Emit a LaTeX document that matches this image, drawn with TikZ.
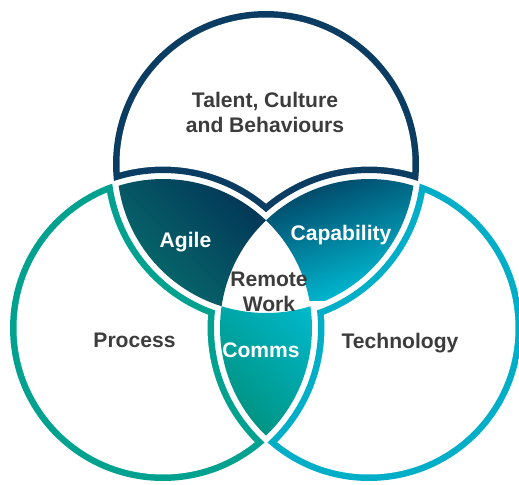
\documentclass[tikz,border=0pt]{standalone}
\usepackage{fontspec}
\setmainfont{Liberation Sans}
\definecolor{navyring}{HTML}{0B3D63}
\definecolor{navydeep}{HTML}{023456}
\definecolor{procteal}{HTML}{00A28F}
\definecolor{techcyan}{HTML}{00AEC8}
\definecolor{agileteal}{HTML}{08716F}
\definecolor{capcyan}{HTML}{00C0D8}
\definecolor{commscyan}{HTML}{00BBD0}
\definecolor{commsgreen}{HTML}{00917E}
\definecolor{labelgray}{HTML}{3C3C3C}
\tikzset{
  darklbl/.style={font=\fontsize{12}{14.2}\selectfont\bfseries, text=labelgray, align=center, inner sep=0pt},
  lightlbl/.style={font=\fontsize{12}{14.2}\selectfont\bfseries, text=white, align=center, inner sep=0pt}
}
% the part of one circle that the two others leave free
\newcommand{\freepart}[6]{%
  \begin{scope}
    \clip #1 circle (#4);
    \begin{scope}[even odd rule]
      \clip \bigbox #2 circle (#5);
      \clip \bigbox #3 circle (#5);
      \fill[#6] \bigbox;
    \end{scope}
  \end{scope}}
\begin{document}
\begin{tikzpicture}[x=0.02cm, y=-0.02cm]
\useasboundingbox (0,0) rectangle (519,484);
\def\bigbox{(-20,-20) rectangle (540,504)}
\def\circT{(266,164) circle (2.98cm)}
\def\circL{(163,328) circle (2.98cm)}
\def\circR{(369,328) circle (2.98cm)}
    % rings: colour first, then the white inside
    \freepart{(266,164)}{(163,328)}{(369,328)}{3.06cm}{3.10cm}{navyring}
    \freepart{(266,164)}{(163,328)}{(369,328)}{2.93cm}{3.23cm}{white}
    \freepart{(163,328)}{(266,164)}{(369,328)}{3.06cm}{3.10cm}{procteal}
    \freepart{(163,328)}{(266,164)}{(369,328)}{2.93cm}{3.23cm}{white}
    \freepart{(369,328)}{(266,164)}{(163,328)}{3.06cm}{3.10cm}{techcyan}
    \freepart{(369,328)}{(266,164)}{(163,328)}{2.93cm}{3.23cm}{white}
    % lenses
    \begin{scope}
        \clip \circT; \clip \circL;
        \begin{scope}[even odd rule]% top and left without the right
            \clip \bigbox \circR;
            \shade[top color=navydeep, bottom color=agileteal, shading angle=-45] (110,170) rectangle (275,315);
        \end{scope}
    \end{scope}
    \begin{scope}
        \clip \circT; \clip \circR;
        \begin{scope}[even odd rule]% top and right without the left
            \clip \bigbox \circL;
            \shade[top color=navydeep, bottom color=capcyan, shading angle=20] (260,160) rectangle (420,300);
        \end{scope}
    \end{scope}
    \begin{scope}
        \clip \circL; \clip \circR;
        \begin{scope}[even odd rule]% left and right without the top
            \clip \bigbox \circT;
            \shade[top color=commscyan, bottom color=commsgreen, shading angle=-45] (212,285) rectangle (340,440);
        \end{scope}
    \end{scope}
    % labels
    \node[darklbl] (talent) at (265,112) {Talent, Culture\\and Behaviours};
    \node[darklbl] (remote) at (269,291.5) {Remote\\Work};
    \node[darklbl, anchor=base] (process) at (134.5,347) {Process};
    \node[darklbl, anchor=base] (techno) at (400,348) {Technology};
    \node[lightlbl, anchor=base] (agile) at (185.5,247) {Agile};
    \node[lightlbl, anchor=base] (capab) at (341,240) {Capability};
    \node[lightlbl, anchor=base] (comms) at (261,357) {Comms};
\end{tikzpicture}
\end{document}
